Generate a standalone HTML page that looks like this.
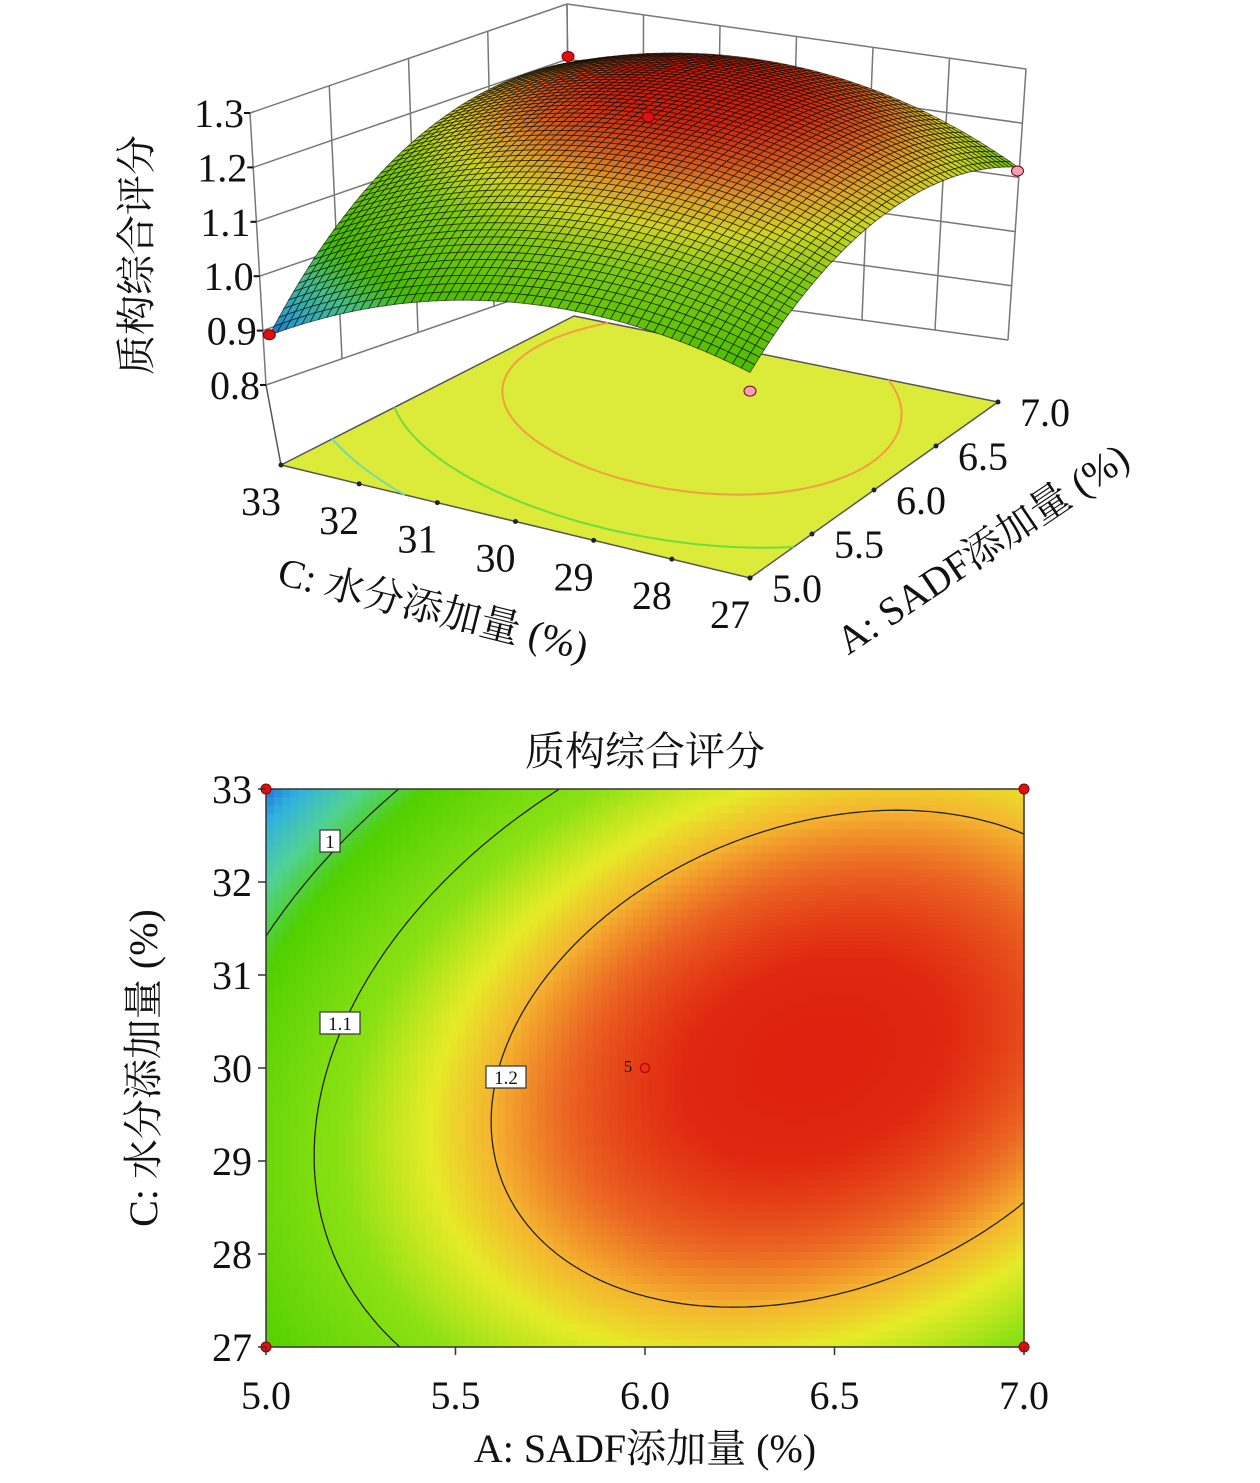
<!DOCTYPE html>
<html><head><meta charset="utf-8"><style>
body{margin:0;background:#fff}
svg text{font-family:"Liberation Serif","Noto Serif CJK SC",serif;fill:#111}
</style></head><body>
<svg id="s" width="1260" height="1478" viewBox="0 0 1260 1478" xmlns="http://www.w3.org/2000/svg">
<g id="g3d"></g>
<g id="g2d"></g>
</svg>
<script>
// model coefficients (quadratic response surface)
const coefA = [6.45, 0.105];     // center A, curvature A
const coefC = [30.1, 0.097];     // center C, curvature C (coded)
const peak = [1.272];
const cross = [0.0511];
const aTicks = [5.0, 5.5, 6.0, 6.5, 7.0];
const cTicks = [27, 28, 29, 30, 31, 32, 33];
const zTicks = [0.8, 0.9, 1.0, 1.1, 1.2, 1.3];
const contourLevels = [1.0, 1.1, 1.2];
const designA = [5, 7, 6, 7, 5];
const designC = [33, 33, 30, 27, 27];
const designV = [0.89, 1.19, 1.272, 1.1, 0.99];

function f(A, C) {
  const dx = A - coefA[0], dz = (C - coefC[0]) / 3;
  return peak[0] - coefA[1]*dx*dx - coefC[1]*dz*dz + cross[0]*dx*dz;
}
const stops = [[0.86,[26,60,200]],[0.92,[48,176,224]],[0.97,[80,210,150]],[1.02,[80,208,0]],[1.12,[140,225,20]],[1.17,[230,235,40]],[1.20,[245,180,48]],[1.23,[235,100,35]],[1.26,[224,40,16]],[1.30,[216,16,8]]];
function col(v, k) {
  k = k || 1;
  if (v <= stops[0][0]) v = stops[0][0];
  if (v >= stops[stops.length-1][0]) v = stops[stops.length-1][0];
  for (let i = 0; i < stops.length-1; i++) {
    const a = stops[i], b = stops[i+1];
    if (v <= b[0]) {
      const t = (v-a[0])/(b[0]-a[0]);
      const c = a[1].map((x,j)=>Math.round((x+(b[1][j]-x)*t)*k));
      return `rgb(${c[0]},${c[1]},${c[2]})`;
    }
  }
}
const NS = "http://www.w3.org/2000/svg";
function mk(tag, attrs, parent) {
  const e = document.createElementNS(NS, tag);
  for (const k in attrs) e.setAttribute(k, attrs[k]);
  parent.appendChild(e); return e;
}
function marching(fn, x0, x1, y0, y1, n, level) {
  const segs = [];
  const dx = (x1-x0)/n, dy = (y1-y0)/n;
  for (let i=0;i<n;i++) for (let j=0;j<n;j++) {
    const xa=x0+i*dx, xb=xa+dx, ya=y0+j*dy, yb=ya+dy;
    const c=[[xa,ya,fn(xa,ya)],[xb,ya,fn(xb,ya)],[xb,yb,fn(xb,yb)],[xa,yb,fn(xa,yb)]];
    const pts=[];
    for (let k=0;k<4;k++){const p=c[k],q=c[(k+1)%4];
      if((p[2]-level)*(q[2]-level)<0){const t=(level-p[2])/(q[2]-p[2]);pts.push([p[0]+t*(q[0]-p[0]),p[1]+t*(q[1]-p[1])]);}}
    if(pts.length>=2) segs.push([pts[0],pts[1]]);
    if(pts.length===4) segs.push([pts[2],pts[3]]);
  }
  return segs;
}

// ---------- 2D contour ----------
const g2 = document.getElementById('g2d');
const PX0=266, PX1=1024, PY0=789, PY1=1347;
const xA = A => PX0 + (A-5)/2*(PX1-PX0);
const yC = C => PY1 - (C-27)/6*(PY1-PY0);
const NX=95, NY=70;
const heat = mk('g', {}, g2);
for (let i=0;i<NX;i++) for (let j=0;j<NY;j++) {
  const A = 5 + (i+0.5)/NX*2, C = 27 + (j+0.5)/NY*6;
  const x = xA(5+i/NX*2), y = yC(27+(j+1)/NY*6);
  const r = mk('rect', {x:x.toFixed(2), y:y.toFixed(2), width:((PX1-PX0)/NX+0.6).toFixed(2), height:((PY1-PY0)/NY+0.6).toFixed(2), fill:col(f(A,C))}, heat);
  
  
}
contourLevels.forEach(lv => {
  const segs = marching(f, 5, 7, 27, 33, 120, lv);
  let d = '';
  segs.forEach(s => { d += `M${xA(s[0][0]).toFixed(1)},${yC(s[0][1]).toFixed(1)}L${xA(s[1][0]).toFixed(1)},${yC(s[1][1]).toFixed(1)}`; });
  const p = mk('path', {d, stroke:'#222', 'stroke-width':1.3, fill:'none'}, g2);
  
  
});
mk('rect', {x:PX0, y:PY0, width:PX1-PX0, height:PY1-PY0, fill:'none', stroke:'#333', 'stroke-width':1.5, }, g2);
[[330,841,'1'],[340,1023,'1.1'],[506,1077,'1.2']].forEach(l=>{
  const w = l[2].length*10+10;
  mk('rect',{x:l[0]-w/2,y:l[1]-11,width:w,height:22,fill:'#fff',stroke:'#333','stroke-width':1.2,},g2);
  const t=mk('text',{x:l[0],y:l[1]+7,'font-size':19,'text-anchor':'middle','font-family':'Liberation Sans, sans-serif',},g2);
  t.textContent=l[2];
});
const t5=mk('text',{x:628,y:1072,'font-size':17,'text-anchor':'middle','font-family':'Liberation Sans, sans-serif',},g2); t5.textContent='5';
mk('circle',{cx:xA(6),cy:yC(30),r:4.5,fill:'none',stroke:'#c00','stroke-width':1.5,},g2);
[[5,33],[7,33],[5,27],[7,27]].forEach(p=>{
  mk('circle',{cx:xA(p[0]),cy:yC(p[1]),r:5,fill:'#e01010',stroke:'#800','stroke-width':1,},g2);
});
aTicks.forEach(a=>{
  mk('line',{x1:xA(a),x2:xA(a),y1:PY1,y2:PY1+8,stroke:'#333','stroke-width':1.5,},g2);
  const t=mk('text',{x:xA(a),y:PY1+62,'font-size':40,'text-anchor':'middle',},g2);
  t.textContent=a.toFixed(1);
});
cTicks.forEach(c=>{
  mk('line',{x1:PX0-8,x2:PX0,y1:yC(c),y2:yC(c),stroke:'#333','stroke-width':1.5,},g2);
  const t=mk('text',{x:PX0-14,y:yC(c)+14,'font-size':40,'text-anchor':'end',},g2);
  t.textContent=String(c);
});
let tt=mk('text',{x:645,y:1462,'font-size':40,'text-anchor':'middle',},g2); tt.textContent='A: SADF添加量 (%)';
tt=mk('text',{x:0,y:0,'font-size':40,'text-anchor':'middle',transform:'translate(157,1068) rotate(-90)',},g2); tt.textContent='C: 水分添加量 (%)';
tt=mk('text',{x:645,y:765,'font-size':40,'text-anchor':'middle',},g2); tt.textContent='质构综合评分';

// ---------- 3D surface ----------
const g3 = document.getElementById('g3d');
const F0 = 0.647;
const CL=[281,465,536,-48], CB=[574,316,478,-11], CR=[998,402,510,43], CF=[750,578,545,0];
function proj(A, C, v) {
  const u=(A-5)/2, w=(33-C)/6;
  const bl = k => CL[k]*(1-u)*(1-w) + CB[k]*u*(1-w) + CR[k]*u*w + CF[k]*(1-u)*w;
  const h = v - F0;
  return [bl(0) + bl(3)*h, bl(1) - bl(2)*h];
}
const WL=[[250,113],[567,4],[570,280],[266,385]];
const WR=[[567,4],[1026,69],[1008,340],[570,280]];
function wallPt(W, s, t) {
  const top=[W[0][0]+(W[1][0]-W[0][0])*s, W[0][1]+(W[1][1]-W[0][1])*s];
  const bot=[W[3][0]+(W[2][0]-W[3][0])*s, W[3][1]+(W[2][1]-W[3][1])*s];
  return [top[0]+(bot[0]-top[0])*t, top[1]+(bot[1]-top[1])*t];
}
function drawWall(W, nv, name) {
  const g = mk('g',{},g3);
  for (let i=0;i<=nv;i++){const a=wallPt(W,i/nv,0),b=wallPt(W,i/nv,1);
    mk('line',{x1:a[0],y1:a[1],x2:b[0],y2:b[1],stroke:'#777','stroke-width':1.5},g);}
  zTicks.forEach((z,i)=>{const t=(1.3-z)/0.5;const a=wallPt(W,0,t),b=wallPt(W,1,t);
    mk('line',{x1:a[0],y1:a[1],x2:b[0],y2:b[1],stroke:'#777','stroke-width':1.5},g);});
}
drawWall(WL, 4, 'back-wall-left');
drawWall(WR, 6, 'back-wall-right');
mk('line',{x1:266,y1:385,x2:281,y2:465,stroke:'#555','stroke-width':1.5,},g3);
zTicks.forEach(z=>{
  const p = wallPt(WL,0,(1.3-z)/0.5);
  mk('line',{x1:p[0]-6,x2:p[0],y1:p[1],y2:p[1],stroke:'#111','stroke-width':2,},g3);
  const t=mk('text',{x:p[0]-6,y:p[1]+14,'font-size':40,'text-anchor':'end',},g3);
  t.textContent=z.toFixed(1);
});
const fl=[proj(5,33,F0),proj(7,33,F0),proj(7,27,F0),proj(5,27,F0)];
mk('polygon',{points:fl.map(p=>p.join(',')).join(' '),fill:'#dcea3a',stroke:'#555','stroke-width':1.5,},g3);
const fcol={1.0:'#7ad8a0',1.1:'#6fdc40',1.2:'#f0a040'};
contourLevels.forEach(lv=>{
  const segs=marching(f,5,7,27,33,80,lv);
  let d='';
  segs.forEach(s=>{const a=proj(s[0][0],s[0][1],F0),b=proj(s[1][0],s[1][1],F0);d+=`M${a[0].toFixed(1)},${a[1].toFixed(1)}L${b[0].toFixed(1)},${b[1].toFixed(1)}`;});
  const p=mk('path',{d,stroke:fcol[lv],'stroke-width':2,fill:'none'},g3);
  
  
});
cTicks.forEach(c=>{const p=proj(5,c,F0);mk('circle',{cx:p[0],cy:p[1],r:2.5,fill:'#222',},g3);
  const t=mk('text',{x:p[0]-20,y:p[1]+50,'font-size':40,'text-anchor':'middle',},g3);t.textContent=String(c);});
aTicks.forEach(a=>{const p=proj(a,27,F0);mk('circle',{cx:p[0],cy:p[1],r:2.5,fill:'#222',},g3);
  const t=mk('text',{x:p[0]+22,y:p[1]+24,'font-size':40,'text-anchor':'start',},g3);t.textContent=a.toFixed(1);});
const N=56, quads=[];
for(let i=0;i<N;i++)for(let j=0;j<N;j++){
  const A0=5+i/N*2,A1=5+(i+1)/N*2,C0=33-j/N*6,C1=33-(j+1)/N*6;
  quads.push({A0,A1,C0,C1,depth:((j+0.5)/N)-((i+0.5)/N)});
}
quads.sort((a,b)=>a.depth-b.depth);
const sg=mk('g',{},g3);
quads.forEach(q=>{
  const pts=[[q.A0,q.C0],[q.A1,q.C0],[q.A1,q.C1],[q.A0,q.C1]].map(p=>proj(p[0],p[1],f(p[0],p[1])));
  const v=f((q.A0+q.A1)/2,(q.C0+q.C1)/2);
  const pg=mk('polygon',{points:pts.map(p=>p[0].toFixed(1)+','+p[1].toFixed(1)).join(' '),fill:col(v,0.9),stroke:'rgba(0,0,0,0.6)','stroke-width':0.9},sg);
  
  
});
designA.forEach((a,i)=>{
  const p=proj(a,designC[i],designV[i]);
  const pink = (designC[i]===27);
  const c=mk('ellipse',{cx:p[0],cy:p[1],rx:6,ry:5,fill:pink?'#f0a0b8':'#e01010',stroke:'#700','stroke-width':1},g3);
  
  
});
tt=mk('text',{x:0,y:0,'font-size':40,'text-anchor':'middle',transform:'translate(150,255) rotate(-90)',},g3); tt.textContent='质构综合评分';
tt=mk('text',{x:0,y:0,'font-size':40,'text-anchor':'middle',transform:'translate(430,622) rotate(14)',},g3); tt.textContent='C: 水分添加量 (%)';
tt=mk('text',{x:0,y:0,'font-size':40,'text-anchor':'middle',transform:'translate(990,560) rotate(-34)',},g3); tt.textContent='A: SADF添加量 (%)';
</script>
</body></html>
